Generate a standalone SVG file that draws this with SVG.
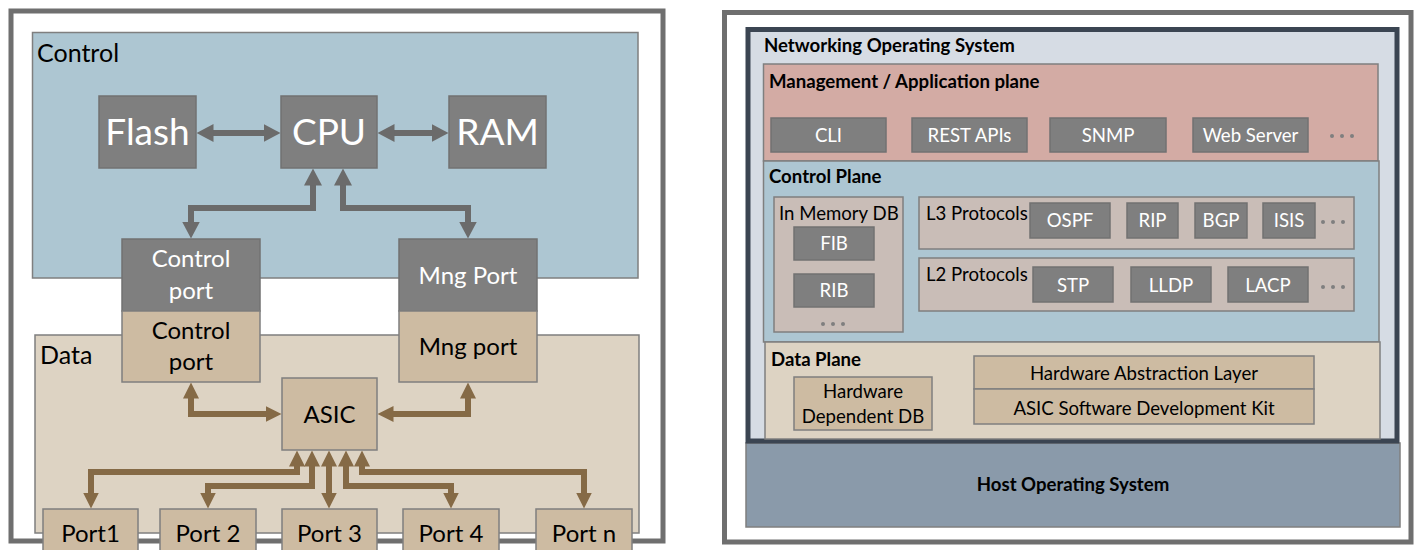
<svg xmlns="http://www.w3.org/2000/svg" width="1422" height="550" viewBox="0 0 1422 550">
  <style>
    text { font-family: Lato, "Open Sans", "Liberation Sans", sans-serif; }
    .frame { fill: #ffffff; stroke: #6f6f6f; stroke-width: 5; }
    .ctlbg { fill: #adc6d2; stroke: #7f7f7f; stroke-width: 1.5; }
    .databg { fill: #ddd3c3; stroke: #7f7f7f; stroke-width: 1.5; }
    .gbox { fill: #7f7f7f; stroke: #727272; stroke-width: 1.5; }
    .tbox { fill: #cdbba2; stroke: #7f7f7f; stroke-width: 1.5; }
    .wt { fill: #ffffff; text-anchor: middle; }
    .bt { fill: #000000; text-anchor: middle; }
    .lbl { fill: #000000; }
    .big { font-size: 37px; }
    .mid { font-size: 24px; }
    .sm { font-size: 18.6px; }
    .hd { font-size: 18.6px; font-weight: bold; fill: #000000; }
    .ga { fill: none; stroke: #6b6b6b; stroke-width: 6; stroke-linejoin: miter; marker-start: url(#ah-g); marker-end: url(#ah-g); }
    .ba { fill: none; stroke: #856a46; stroke-width: 6; stroke-linejoin: miter; marker-start: url(#ah-b); marker-end: url(#ah-b); }
    .nos { fill: #d6dce4; stroke: #3b4552; stroke-width: 5; }
    .mgmt { fill: #d3aba4; stroke: #7f7f7f; stroke-width: 1.5; }
    .cp { fill: #adc6d2; stroke: #7f7f7f; stroke-width: 1.5; }
    .dp { fill: #ddd3c3; stroke: #7f7f7f; stroke-width: 1.5; }
    .grp { fill: #c9bdb7; stroke: #7f7f7f; stroke-width: 1.5; }
    .host { fill: #8a9aaa; stroke: #7f7f7f; stroke-width: 1.5; }
    .dot { fill: #7f7f7f; }
  </style>
  <defs>
    <marker id="ah-g" viewBox="0 0 17 18" refX="0.5" refY="9" markerWidth="17" markerHeight="18" markerUnits="userSpaceOnUse" orient="auto-start-reverse">
      <path d="M0,0 L17,9 L0,18 z" fill="#6b6b6b"/>
    </marker>
    <marker id="ah-b" viewBox="0 0 16 16" refX="0.5" refY="8" markerWidth="16" markerHeight="16" markerUnits="userSpaceOnUse" orient="auto-start-reverse">
      <path d="M0,0 L16,8 L0,16 z" fill="#856a46"/>
    </marker>
  </defs>

  <!-- ===== Switch hardware view ===== -->
  <g id="hw-frame">
    <rect class="frame" x="11" y="11" width="652" height="530"/>
  </g>
  <g id="control-area">
    <rect class="ctlbg" x="32.5" y="32.5" width="605.5" height="245.5"/>
    <text class="lbl" x="37" y="62" font-size="25">Control</text>
  </g>
  <g id="data-area">
    <rect class="databg" x="35" y="335" width="604" height="198"/>
    <text class="lbl" x="40" y="364" font-size="25">Data</text>
  </g>

  <g id="flash">
    <rect class="gbox" x="99" y="96" width="97" height="72"/>
    <text class="wt big" x="147.5" y="145">Flash</text>
  </g>
  <g id="cpu">
    <rect class="gbox" x="281" y="96" width="96" height="72"/>
    <text class="wt big" x="329" y="145">CPU</text>
  </g>
  <g id="ram">
    <rect class="gbox" x="449" y="96" width="97" height="72"/>
    <text class="wt big" x="497.5" y="145">RAM</text>
  </g>

  <g id="control-port">
    <rect class="gbox" x="122" y="239" width="138" height="72"/>
    <rect class="tbox" x="122" y="311" width="138" height="71"/>
    <text class="wt mid" x="191" y="267">Control</text>
    <text class="wt mid" x="191" y="299">port</text>
    <text class="bt mid" x="191" y="339">Control</text>
    <text class="bt mid" x="191" y="370">port</text>
  </g>
  <g id="mng-port">
    <rect class="gbox" x="399" y="239" width="138" height="72"/>
    <rect class="tbox" x="399" y="311" width="138" height="71"/>
    <text class="wt mid" x="468" y="284">Mng Port</text>
    <text class="bt mid" x="468" y="355">Mng port</text>
  </g>
  <g id="asic">
    <rect class="tbox" x="282" y="378" width="95" height="72"/>
    <text class="bt mid" x="329.5" y="423">ASIC</text>
  </g>

  <g id="port1">
    <rect class="tbox" x="43" y="509" width="95" height="52"/>
    <text class="bt mid" x="90.5" y="542">Port1</text>
  </g>
  <g id="port2">
    <rect class="tbox" x="160" y="509" width="96" height="52"/>
    <text class="bt mid" x="208" y="542">Port 2</text>
  </g>
  <g id="port3">
    <rect class="tbox" x="282" y="509" width="95" height="52"/>
    <text class="bt mid" x="329.5" y="542">Port 3</text>
  </g>
  <g id="port4">
    <rect class="tbox" x="403" y="509" width="96" height="52"/>
    <text class="bt mid" x="451" y="542">Port 4</text>
  </g>
  <g id="portn">
    <rect class="tbox" x="536" y="509" width="96" height="52"/>
    <text class="bt mid" x="584" y="542">Port n</text>
  </g>

  <g id="connectors">
    <!-- control plane links -->
    <path class="ga" d="M213,133 H264"/>
    <path class="ga" d="M394,133 H432"/>
    <path class="ga" d="M313,185 V208 H191 V222"/>
    <path class="ga" d="M343,185 V208 H468 V222"/>
    <!-- data plane links -->
    <path class="ba" d="M191,398 V414 H266"/>
    <path class="ba" d="M393,414 H468 V398"/>
    <path class="ba" d="M297,466 V472 H91 V493"/>
    <path class="ba" d="M312,466 V486 H208 V493"/>
    <path class="ba" d="M329,466 V493"/>
    <path class="ba" d="M346,466 V486 H451 V493"/>
    <path class="ba" d="M362,466 V472 H584 V493"/>
  </g>

  <!-- ===== Network OS stack ===== -->
  <g id="stack-frame">
    <rect class="frame" x="724.5" y="12.5" width="686.5" height="529.5"/>
  </g>
  <g id="host-os">
    <rect class="host" x="746" y="443" width="654" height="84"/>
    <text class="hd" x="1073" y="491" text-anchor="middle">Host Operating System</text>
  </g>
  <g id="network-os">
    <rect class="nos" x="748" y="29.5" width="649" height="411.5"/>
    <text class="hd" x="764" y="52">Networking Operating System</text>
  </g>

  <g id="mgmt-plane">
    <rect class="mgmt" x="763.5" y="64" width="614.5" height="97"/>
    <text class="hd" x="769" y="88">Management / Application plane</text>
    <g id="cli">
      <rect class="gbox" x="771" y="118" width="115" height="34"/>
      <text class="wt sm" x="828.5" y="142">CLI</text>
    </g>
    <g id="rest">
      <rect class="gbox" x="912" y="118" width="115" height="34"/>
      <text class="wt sm" x="969.5" y="142">REST APIs</text>
    </g>
    <g id="snmp">
      <rect class="gbox" x="1050" y="118" width="116" height="34"/>
      <text class="wt sm" x="1108" y="142">SNMP</text>
    </g>
    <g id="web">
      <rect class="gbox" x="1193" y="118" width="115" height="34"/>
      <text class="wt sm" x="1250.5" y="142">Web Server</text>
    </g>
    <circle class="dot" cx="1332" cy="136" r="2"/>
    <circle class="dot" cx="1342" cy="136" r="2"/>
    <circle class="dot" cx="1352" cy="136" r="2"/>
  </g>

  <g id="control-plane">
    <rect class="cp" x="763.5" y="161" width="615.5" height="181"/>
    <text class="hd" x="769" y="183">Control Plane</text>
  </g>
  <g id="in-memory-db">
    <rect class="grp" x="774" y="197" width="129" height="135"/>
    <text class="lbl sm" x="779" y="220">In Memory DB</text>
    <g id="fib">
      <rect class="gbox" x="794" y="227" width="80" height="33"/>
      <text class="wt sm" x="834" y="250">FIB</text>
    </g>
    <g id="rib">
      <rect class="gbox" x="794" y="274" width="80" height="33"/>
      <text class="wt sm" x="834" y="297">RIB</text>
    </g>
    <circle class="dot" cx="823" cy="324" r="2"/>
    <circle class="dot" cx="833" cy="324" r="2"/>
    <circle class="dot" cx="843" cy="324" r="2"/>
  </g>
  <g id="l3">
    <rect class="grp" x="919" y="197" width="435" height="52"/>
    <text class="lbl sm" x="926" y="220">L3 Protocols</text>
    <g id="ospf">
      <rect class="gbox" x="1030" y="203" width="80" height="35"/>
      <text class="wt sm" x="1070" y="227">OSPF</text>
    </g>
    <g id="rip">
      <rect class="gbox" x="1127" y="203" width="51" height="35"/>
      <text class="wt sm" x="1152.5" y="227">RIP</text>
    </g>
    <g id="bgp">
      <rect class="gbox" x="1195" y="203" width="52" height="35"/>
      <text class="wt sm" x="1221" y="227">BGP</text>
    </g>
    <g id="isis">
      <rect class="gbox" x="1263" y="203" width="52" height="35"/>
      <text class="wt sm" x="1289" y="227">ISIS</text>
    </g>
    <circle class="dot" cx="1323" cy="222" r="2"/>
    <circle class="dot" cx="1333" cy="222" r="2"/>
    <circle class="dot" cx="1343" cy="222" r="2"/>
  </g>
  <g id="l2">
    <rect class="grp" x="919" y="258" width="435" height="53"/>
    <text class="lbl sm" x="926" y="281">L2 Protocols</text>
    <g id="stp">
      <rect class="gbox" x="1033" y="267" width="80" height="35"/>
      <text class="wt sm" x="1073" y="292">STP</text>
    </g>
    <g id="lldp">
      <rect class="gbox" x="1131" y="267" width="80" height="35"/>
      <text class="wt sm" x="1171" y="292">LLDP</text>
    </g>
    <g id="lacp">
      <rect class="gbox" x="1228" y="267" width="80" height="35"/>
      <text class="wt sm" x="1268" y="292">LACP</text>
    </g>
    <circle class="dot" cx="1323" cy="287" r="2"/>
    <circle class="dot" cx="1333" cy="287" r="2"/>
    <circle class="dot" cx="1343" cy="287" r="2"/>
  </g>

  <g id="data-plane">
    <rect class="dp" x="765" y="342" width="615" height="97"/>
    <text class="hd" x="771" y="366">Data Plane</text>
  </g>
  <g id="hw-dependent-db">
    <rect class="tbox" x="794" y="377" width="138" height="53"/>
    <text class="bt sm" x="863" y="398">Hardware</text>
    <text class="bt sm" x="863" y="423">Dependent DB</text>
  </g>
  <g id="hal">
    <rect class="tbox" x="974" y="356" width="340" height="33"/>
    <text class="bt sm" x="1144" y="380">Hardware Abstraction Layer</text>
  </g>
  <g id="asic-sdk">
    <rect class="tbox" x="974" y="389" width="340" height="35"/>
    <text class="bt sm" x="1144" y="415">ASIC Software Development Kit</text>
  </g>
</svg>
